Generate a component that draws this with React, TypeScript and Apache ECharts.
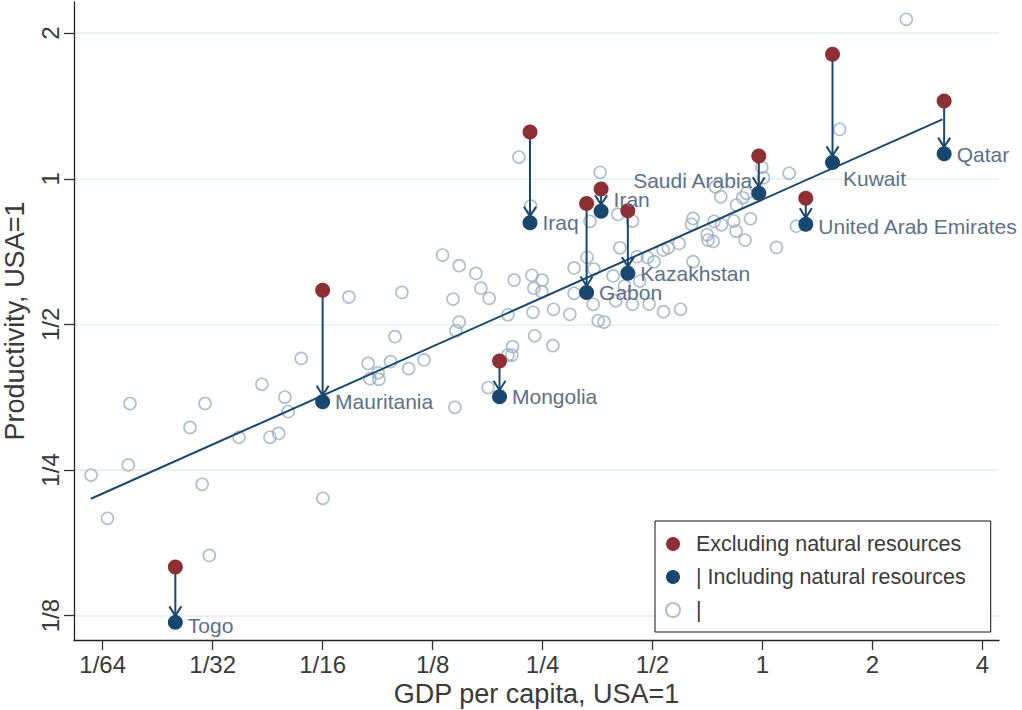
import React, { useEffect, useRef } from "react";
import * as echarts from "echarts";

// ---- Data (ratios to USA = 1) ----
const countries = ["Togo", "Mauritania", "Mongolia", "Iraq", "Gabon", "Iran", "Kazakhstan", "Saudi Arabia", "United Arab Emirates", "Kuwait", "Qatar"];
const countryGdp = [0.0247, 0.0625, 0.1906, 0.231, 0.33, 0.3616, 0.428, 0.977, 1.314, 1.555, 3.143];
const prodExcluding = [0.1575, 0.5878, 0.42, 1.249, 0.889, 0.952, 0.859, 1.114, 0.911, 1.808, 1.448];
const prodIncluding = [0.121, 0.3458, 0.3543, 0.811, 0.582, 0.857, 0.638, 0.933, 0.805, 1.081, 1.127];

const otherGdp = [
  0.01452, 0.0161, 0.01836, 0.01856, 0.02709, 0.02925, 0.02978, 0.0306, 0.03688, 0.04263,
  0.04484, 0.04737, 0.04925, 0.0503, 0.0546, 0.0626, 0.07375, 0.0833, 0.0842, 0.0887,
  0.0891, 0.0959, 0.0986, 0.103, 0.1075, 0.1184, 0.1331, 0.1422, 0.1439, 0.1448,
  0.1478, 0.1478, 0.1642, 0.1695, 0.1774, 0.1786, 0.201, 0.201, 0.206, 0.2069,
  0.209, 0.2154, 0.232, 0.2337, 0.2367, 0.2355, 0.2379, 0.2494, 0.249, 0.268,
  0.2668, 0.297, 0.305, 0.305, 0.331, 0.337, 0.3455, 0.344, 0.355, 0.3684,
  0.3595, 0.39, 0.3968, 0.402, 0.407, 0.419, 0.4408, 0.4408, 0.4538, 0.4615,
  0.4843, 0.4894, 0.505, 0.5347, 0.5359, 0.5966, 0.5517, 0.5914, 0.6393, 0.6457,
  0.6457, 0.7054, 0.7326, 0.737, 0.7439, 0.7689, 0.7722, 0.8346, 0.8467, 0.849,
  0.8833, 0.904, 0.896, 0.927, 0.9956, 1.006, 1.092, 1.183, 1.239, 1.627,
  2.476, 0.7098
];
const otherProd = [
  0.244, 0.1986, 0.256, 0.343, 0.306, 0.2335, 0.343, 0.1664, 0.292, 0.3758,
  0.292, 0.2974, 0.3537, 0.33, 0.425, 0.2184, 0.5695, 0.415, 0.386, 0.397,
  0.385, 0.4185, 0.4714, 0.582, 0.405, 0.422, 0.6955, 0.564, 0.3368, 0.485,
  0.661, 0.5056, 0.637, 0.594, 0.37, 0.566, 0.5233, 0.432, 0.432, 0.4495,
  0.6175, 1.109, 0.878, 0.6314, 0.594, 0.5295, 0.4735, 0.6175, 0.584, 0.537,
  0.4516, 0.5245, 0.654, 0.5795, 0.688, 0.8166, 0.6506, 0.55, 0.5087, 0.5056,
  1.031, 0.6295, 0.5594, 0.844, 0.72, 0.6, 0.8176, 0.55, 0.69, 0.6144,
  0.688, 0.5507, 0.6737, 0.712, 0.531, 0.537, 0.72, 0.735, 0.805, 0.828,
  0.6737, 0.766, 0.742, 0.8166, 0.9626, 0.9179, 0.803, 0.8176, 0.7797, 0.8823,
  0.9135, 0.933, 0.747, 0.8264, 1.056, 1.005, 0.721, 1.026, 0.798, 1.265,
  2.136, 0.747
];

// fitted line endpoints
const fitGdp = [0.0145, 3.11];
const fitProd = [0.218, 1.327];

// axis ticks
const xTickValues = [1 / 64, 1 / 32, 1 / 16, 1 / 8, 1 / 4, 1 / 2, 1, 2, 4];
const xTickLabels = ["1/64", "1/32", "1/16", "1/8", "1/4", "1/2", "1", "2", "4"];
const yTickValues = [1 / 8, 1 / 4, 1 / 2, 1, 2];
const yTickLabels = ["1/8", "1/4", "1/2", "1", "2"];

const legendNames = ["Excluding natural resources", "| Including natural resources", "|"];

const RED = "#8e2f36";
const NAVY = "#1a476f";
const HOLLOW = "#9aacc0";
const LABEL = "#5d7089";
const FONT = "'Liberation Sans', Arial, Helvetica, sans-serif";

const labelPlacement: Record<string, any> = {
  "Saudi Arabia": { position: "left", offset: [6, -13] },
  Kuwait: { position: "right", offset: [-2, 16] },
  Iran: { position: "right", offset: [0, -12] },
  Togo: { position: "right", offset: [0, 3] },
  Qatar: { position: "right", offset: [0, 1] },
  "United Arab Emirates": { position: "right", offset: [0, 2] },
};

const lg = Math.log2;

function tickLabel(v: number, vals: number[], labels: string[]) {
  let best = 0;
  let bd = Infinity;
  vals.forEach((t, i) => {
    const d = Math.abs(lg(t) - v);
    if (d < bd) {
      bd = d;
      best = i;
    }
  });
  return bd < 1e-6 ? labels[best] : "";
}

export default function App() {
  const ref = useRef<HTMLDivElement>(null);

  useEffect(() => {
    if (!ref.current) return;
    const chart = echarts.init(ref.current, undefined, { renderer: "svg" });

    const hollowData = otherGdp.map((g, i) => [lg(g), lg(otherProd[i])]);
    const redData = countryGdp.map((g, i) => [lg(g), lg(prodExcluding[i])]);
    const blueData = countryGdp.map((g, i) => ({
      name: countries[i],
      value: [lg(g), lg(prodIncluding[i])],
      label: labelPlacement[countries[i]] || { position: "right" },
    }));
    const arrowData = countryGdp.map((g, i) => [lg(g), lg(prodExcluding[i]), lg(prodIncluding[i])]);
    const fitData = fitGdp.map((g, i) => [lg(g), lg(fitProd[i])]);

    const xTicks = xTickValues.map(lg);
    const yTicks = yTickValues.map(lg);

    chart.setOption({
      animation: false,
      backgroundColor: "#ffffff",
      grid: { left: 74, right: 23, top: 2, bottom: 70, containLabel: false, outerBoundsMode: "none" },
      legend: {
        left: 655,
        top: 521,
        orient: "vertical",
        selectedMode: false,
        backgroundColor: "#ffffff",
        borderColor: "#111",
        borderWidth: 1,
        padding: [12, 25, 11, 10],
        itemGap: 11,
        itemWidth: 14,
        itemHeight: 14,
        textStyle: { fontFamily: FONT, fontSize: 21.5, color: "#3a3a3a", padding: [0, 0, 0, 11] },
        data: [
          { name: legendNames[0], icon: "circle" },
          { name: legendNames[1], icon: "circle" },
          { name: legendNames[2], icon: "circle" },
        ],
      },
      xAxis: {
        type: "value",
        min: -6.261,
        max: 2.151,
        name: "GDP per capita, USA=1",
        nameLocation: "middle",
        nameGap: 40,
        nameTextStyle: { fontFamily: FONT, fontSize: 27, color: "#3a3a3a" },
        axisLine: { show: true, onZero: false, lineStyle: { color: "#222", width: 1.3 } },
        axisTick: { show: true, length: 10, customValues: xTicks, lineStyle: { color: "#333", width: 1.3 } },
        axisLabel: {
          customValues: xTicks,
          margin: 12,
          fontFamily: FONT,
          fontSize: 24,
          color: "#3a3a3a",
          formatter: (v: number) => tickLabel(v, xTickValues, xTickLabels),
        },
        splitLine: { show: false },
      },
      yAxis: {
        type: "value",
        min: -3.168,
        max: 1.214,
        name: "Productivity, USA=1",
        nameLocation: "middle",
        nameGap: 46,
        nameTextStyle: { fontFamily: FONT, fontSize: 27, color: "#3a3a3a" },
        axisLine: { show: true, onZero: false, lineStyle: { color: "#222", width: 1.3 } },
        axisTick: { show: true, length: 10, customValues: yTicks, lineStyle: { color: "#333", width: 1.3 } },
        axisLabel: {
          customValues: yTicks,
          rotate: 90,
          margin: 12,
          fontFamily: FONT,
          fontSize: 24,
          color: "#3a3a3a",
          formatter: (v: number) => tickLabel(v, yTickValues, yTickLabels),
        },
        splitLine: { show: true, lineStyle: { color: "#e6eef1", width: 1.5 } },
      },
      series: [
        {
          name: legendNames[2],
          type: "scatter",
          data: hollowData,
          symbol: "circle",
          symbolSize: 12,
          itemStyle: { color: "rgba(255,255,255,0)", borderColor: HOLLOW, borderWidth: 1.6 },
          z: 1,
        },
        {
          type: "line",
          data: fitData,
          showSymbol: false,
          symbol: "none",
          lineStyle: { color: NAVY, width: 2 },
          z: 2,
          silent: true,
        },
        {
          type: "custom",
          data: arrowData,
          encode: { x: 0, y: 1 },
          z: 3,
          renderItem: (params: any, api: any) => {
            const x = api.value(0);
            const y1 = api.value(1);
            const y2 = api.value(2);
            const p1 = api.coord([x, y1]);
            const p2 = api.coord([x, y2]);
            const tip = p2[1] - 6.5;
            return {
              type: "group",
              children: [
                {
                  type: "line",
                  shape: { x1: p1[0], y1: p1[1], x2: p2[0], y2: tip },
                  style: { stroke: NAVY, lineWidth: 2 },
                },
                {
                  type: "polyline",
                  shape: { points: [[p2[0] - 6, tip - 9.5], [p2[0], tip], [p2[0] + 6, tip - 9.5]] },
                  style: { stroke: NAVY, lineWidth: 2, fill: "none" },
                },
              ],
            };
          },
        },
        {
          name: legendNames[0],
          type: "scatter",
          data: redData,
          symbol: "circle",
          symbolSize: 15,
          itemStyle: { color: RED, opacity: 1 },
          z: 4,
        },
        {
          name: legendNames[1],
          type: "scatter",
          data: blueData,
          symbol: "circle",
          symbolSize: 15,
          itemStyle: { color: NAVY, opacity: 1 },
          label: {
            show: true,
            formatter: "{b}",
            fontFamily: FONT,
            fontSize: 21,
            color: LABEL,
            distance: 5,
          },
          z: 5,
        },
      ],
    });

    return () => chart.dispose();
  }, []);

  return (
    <div
      ref={ref}
      style={{ position: "absolute", left: 0, top: 0, width: 1022, height: 710, background: "#fff" }}
    />
  );
}
